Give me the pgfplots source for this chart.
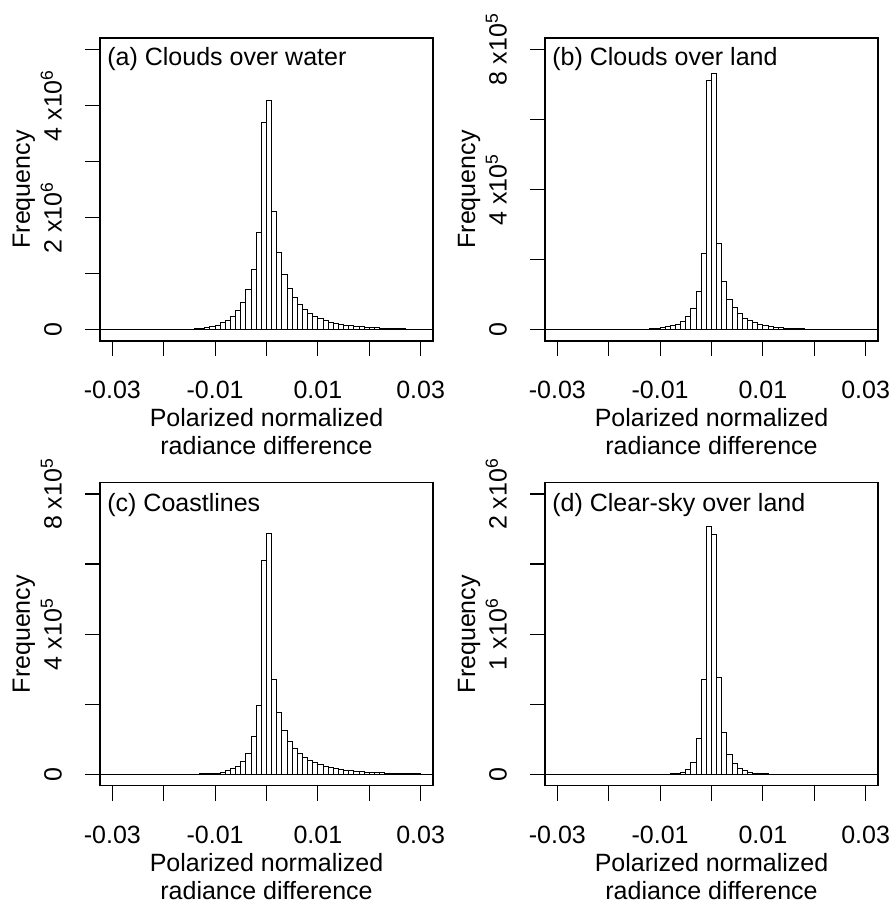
\documentclass[border=0pt]{standalone}
\usepackage{fontspec}
\setmainfont{Liberation Sans}
\usepackage{pgfplots}
\usepackage{pgfplotstable}
\pgfplotsset{compat=1.18}

% histogram counts, bin left edge in first column (width 0.001)
\pgfplotstableread{
x y
-0.034 0
-0.033 0
-0.032 0
-0.031 0
-0.030 1000
-0.029 1000
-0.028 1000
-0.027 1000
-0.026 1000
-0.025 1500
-0.024 2000
-0.023 2000
-0.022 2500
-0.021 3000
-0.020 3500
-0.019 4000
-0.018 5000
-0.017 6000
-0.016 8000
-0.015 11000
-0.014 16000
-0.013 24000
-0.012 35000
-0.011 54000
-0.010 84000
-0.009 125000
-0.008 170000
-0.007 245000
-0.006 340000
-0.005 490000
-0.004 710000
-0.003 1070000
-0.002 1740000
-0.001 3700000
0.000 4090000
0.001 2100000
0.002 1370000
0.003 977000
0.004 740000
0.005 570000
0.006 450000
0.007 360000
0.008 290000
0.009 240000
0.010 200000
0.011 160000
0.012 138000
0.013 115000
0.014 96000
0.015 80000
0.016 70000
0.017 60000
0.018 50000
0.019 45000
0.020 40000
0.021 35000
0.022 30000
0.023 25000
0.024 21000
0.025 18000
0.026 15000
0.027 12000
0.028 10000
0.029 8000
0.030 6000
0.031 5000
0.032 4000
0.033 3000
0.034 0
}\histA

\pgfplotstableread{
x y
-0.034 0
-0.033 0
-0.032 0
-0.031 0
-0.030 0
-0.029 50
-0.028 50
-0.027 80
-0.026 100
-0.025 100
-0.024 120
-0.023 150
-0.022 150
-0.021 180
-0.020 200
-0.019 250
-0.018 300
-0.017 400
-0.016 600
-0.015 800
-0.014 1200
-0.013 2000
-0.012 3000
-0.011 4000
-0.010 5700
-0.009 8500
-0.008 11000
-0.007 16000
-0.006 24500
-0.005 37500
-0.004 61500
-0.003 108500
-0.002 217000
-0.001 711000
0.000 730000
0.001 246000
0.002 137000
0.003 87500
0.004 63500
0.005 45000
0.006 33000
0.007 26000
0.008 20000
0.009 15500
0.010 12000
0.011 9500
0.012 7600
0.013 5700
0.014 4700
0.015 4000
0.016 3000
0.017 2500
0.018 2000
0.019 1500
0.020 1200
0.021 1000
0.022 800
0.023 600
0.024 500
0.025 400
0.026 300
0.027 250
0.028 200
0.029 150
0.030 100
0.031 100
0.032 80
0.033 50
0.034 0
}\histB

\pgfplotstableread{
x y
-0.034 0
-0.033 0
-0.032 0
-0.031 50
-0.030 50
-0.029 60
-0.028 70
-0.027 80
-0.026 100
-0.025 110
-0.024 130
-0.023 150
-0.022 180
-0.021 220
-0.020 300
-0.019 400
-0.018 500
-0.017 600
-0.016 800
-0.015 1000
-0.014 1200
-0.013 1500
-0.012 2000
-0.011 3000
-0.010 4000
-0.009 6700
-0.008 10000
-0.007 16000
-0.006 24000
-0.005 37500
-0.004 61000
-0.003 107000
-0.002 197000
-0.001 611000
0.000 686000
0.001 272000
0.002 176000
0.003 126000
0.004 94500
0.005 73000
0.006 59000
0.007 48000
0.008 40000
0.009 33000
0.010 29000
0.011 24000
0.012 20000
0.013 17000
0.014 14000
0.015 12000
0.016 10000
0.017 9500
0.018 8500
0.019 7000
0.020 6000
0.021 5000
0.022 4500
0.023 4000
0.024 3500
0.025 3000
0.026 2500
0.027 2000
0.028 1800
0.029 1500
0.030 1200
0.031 1000
0.032 900
0.033 800
0.034 0
}\histC

\pgfplotstableread{
x y
-0.034 0
-0.033 0
-0.032 0
-0.031 0
-0.030 0
-0.029 0
-0.028 0
-0.027 0
-0.026 0
-0.025 0
-0.024 0
-0.023 0
-0.022 0
-0.021 0
-0.020 0
-0.019 0
-0.018 0
-0.017 100
-0.016 200
-0.015 300
-0.014 400
-0.013 500
-0.012 600
-0.011 800
-0.010 1000
-0.009 2000
-0.008 4000
-0.007 7000
-0.006 14000
-0.005 33000
-0.004 88000
-0.003 255000
-0.002 680000
-0.001 1770000
0.000 1710000
0.001 690000
0.002 300000
0.003 140000
0.004 76000
0.005 45000
0.006 29000
0.007 17000
0.008 10000
0.009 6000
0.010 4000
0.011 3000
0.012 2000
0.013 1500
0.014 1000
0.015 800
0.016 600
0.017 500
0.018 400
0.019 300
0.020 200
0.021 100
0.022 100
0.023 0
0.024 0
0.025 0
0.026 0
0.027 0
0.028 0
0.029 0
0.030 0
0.031 0
0.032 0
0.033 0
0.034 0
}\histD

\pgfplotsset{
  rhist/.style={
    scale only axis, width=166.5pt, height=151.5pt,
    anchor=south west,
    xmin=-0.0324, xmax=0.0324,
    axis line style={line width=0.7pt},
    tick align=outside, xtick pos=left, ytick pos=left,
    major tick length=7.5pt,
    every tick/.style={black, line width=0.6pt},
    xtick={-0.03,-0.02,-0.01,0,0.01,0.02,0.03},
    xticklabels={-0.03,,-0.01,,0.01,,0.03},
    xticklabel style={anchor=base, yshift=-21.5pt},
    yticklabel style={rotate=90, anchor=base, yshift=11.65pt},
    scaled ticks=false,
    xlabel={Polarized normalized\\radiance difference},
    xlabel style={at={(rel axis cs:0.5,0)}, anchor=north, yshift=-33.5pt, align=center, inner sep=0pt},
    ylabel={Frequency},
    ylabel style={at={(rel axis cs:0,0.5)}, anchor=base, yshift=35pt, inner sep=0pt},
  },
  bars/.style={ybar interval, fill=white, draw=black, line width=0.5pt},
}

\begin{document}
\fontsize{12.5}{14}\selectfont
\begin{tikzpicture}
\path[use as bounding box] (0,0) rectangle (446.5pt,452pt);

% (a)
\begin{axis}[rhist, at={(50pt,281.5pt)},
  ymin=-200000, ymax=5200000,
  ytick={0,1000000,2000000,3000000,4000000,5000000},
  yticklabels={0,,2 x10\textsuperscript{6},,4 x10\textsuperscript{6},}]
\addplot[bars] table {\histA};
\node[anchor=base west, inner sep=0pt, xshift=3.5pt, yshift=-13.85pt] at (rel axis cs:0,1) {(a) Clouds over water};
\end{axis}

% (b)
\begin{axis}[rhist, at={(272.5pt,281.5pt)},
  ymin=-32000, ymax=832000,
  ytick={0,200000,400000,600000,800000},
  yticklabels={0,,4 x10\textsuperscript{5},,8 x10\textsuperscript{5}}]
\addplot[bars] table {\histB};
\node[anchor=base west, inner sep=0pt, xshift=3.5pt, yshift=-13.85pt] at (rel axis cs:0,1) {(b) Clouds over land};
\end{axis}

% (c)
\begin{axis}[rhist, at={(50pt,59.15pt)},
  ymin=-32000, ymax=832000,
  ytick={0,200000,400000,600000,800000},
  yticklabels={0,,4 x10\textsuperscript{5},,8 x10\textsuperscript{5}}]
\addplot[bars] table {\histC};
\node[anchor=base west, inner sep=0pt, xshift=3.5pt, yshift=-14.2pt] at (rel axis cs:0,1) {(c) Coastlines};
\end{axis}

% (d)
\begin{axis}[rhist, at={(272.5pt,59.15pt)},
  ymin=-80000, ymax=2080000,
  ytick={0,500000,1000000,1500000,2000000},
  yticklabels={0,,1 x10\textsuperscript{6},,2 x10\textsuperscript{6}}]
\addplot[bars] table {\histD};
\node[anchor=base west, inner sep=0pt, xshift=3.5pt, yshift=-14.2pt] at (rel axis cs:0,1) {(d) Clear-sky over land};
\end{axis}
\end{tikzpicture}
\end{document}
